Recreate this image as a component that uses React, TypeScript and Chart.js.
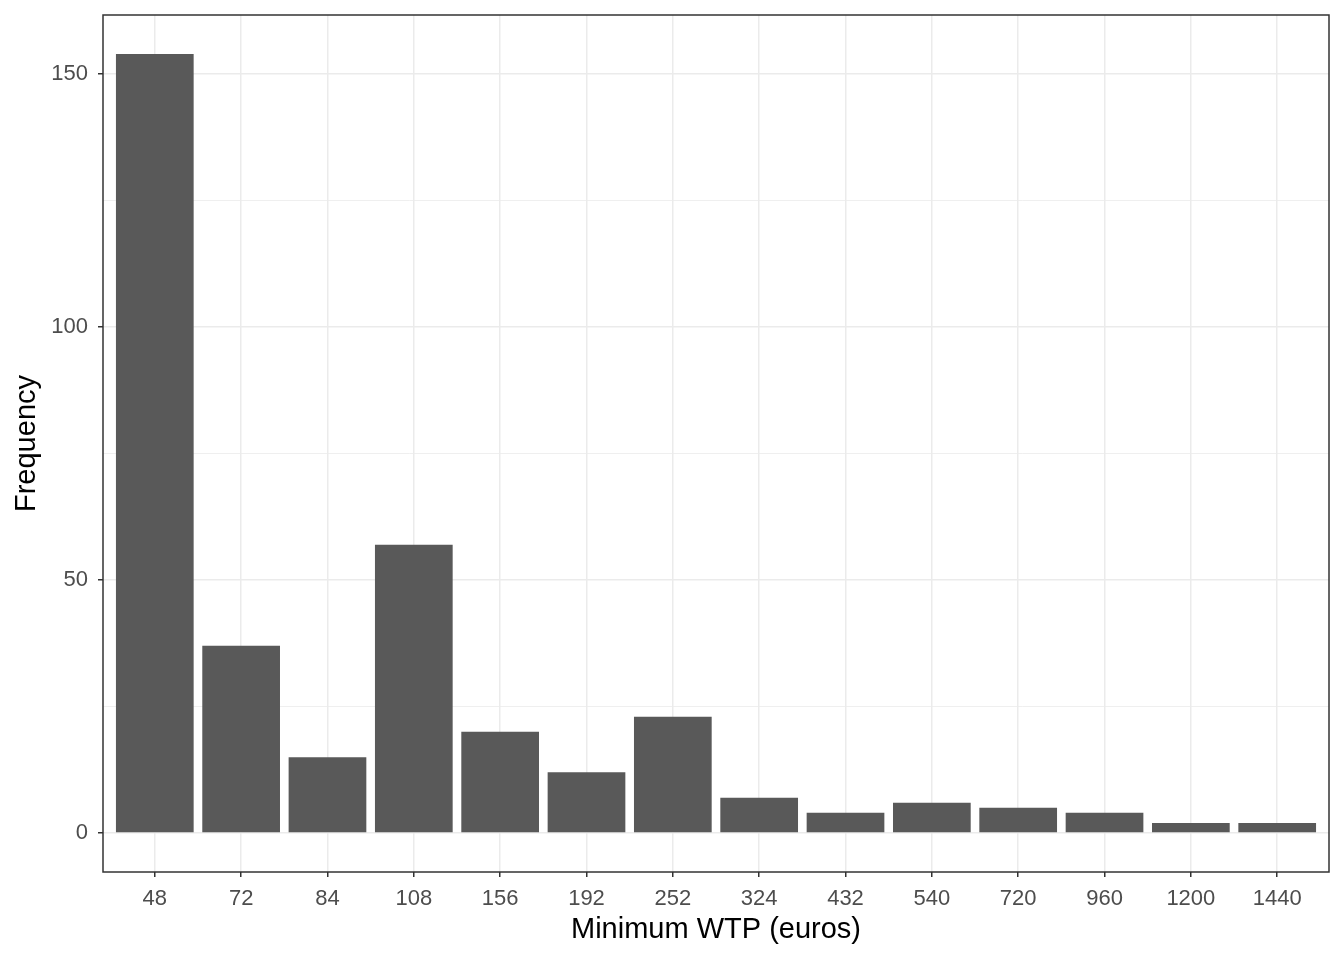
import React, { useEffect, useRef } from "react";
import { Chart, registerables } from "chart.js";

Chart.register(...registerables);

const categories: string[] = ["48", "72", "84", "108", "156", "192", "252", "324", "432", "540", "720", "960", "1200", "1440"];
const frequencies: number[] = [154, 37, 15, 57, 20, 12, 23, 7, 4, 6, 5, 4, 2, 2];
const yTickValues: number[] = [0, 50, 100, 150];
const yGridValues: number[] = [0, 25, 50, 75, 100, 125, 150];

const FONT = "'Liberation Sans', Arial, sans-serif";

const panelBorder = {
  id: "panelBorder",
  afterDraw(chart: any) {
    const { ctx, chartArea } = chart;
    ctx.save();
    ctx.strokeStyle = "#333333";
    ctx.lineWidth = 1.5;
    ctx.strokeRect(chartArea.left, chartArea.top, chartArea.right - chartArea.left, chartArea.bottom - chartArea.top);
    ctx.restore();
  },
};

export default function App() {
  const ref = useRef<HTMLCanvasElement>(null);
  useEffect(() => {
    if (!ref.current) return;
    const n = categories.length;
    const chart = new Chart(ref.current, {
      type: "bar",
      data: {
        datasets: [
          {
            data: frequencies.map((v, i) => ({ x: i, y: v })),
            backgroundColor: "#595959",
            borderWidth: 0,
            barPercentage: 0.9,
            categoryPercentage: 1,
          },
        ],
      },
      options: {
        animation: false,
        responsive: false,
        maintainAspectRatio: false,
        layout: { padding: { top: 15, right: 15, left: 10, bottom: 13 } },
        plugins: { legend: { display: false }, tooltip: { enabled: false } },
        scales: {
          x: {
            type: "linear",
            min: -0.6,
            max: n - 1 + 0.6,
            offset: false,
            afterBuildTicks: (scale: any) => {
              scale.ticks = categories.map((_, i) => ({ value: i }));
            },
            afterFit: (scale: any) => {
              scale.height = 947 - 872;
              scale.paddingLeft = 0;
              scale.paddingRight = 0;
            },
            ticks: {
              callback: (v: any) => categories[v as number] ?? "",
              color: "#4D4D4D",
              font: { family: FONT, size: 22 },
              padding: 9,
              maxRotation: 0,
              autoSkip: false,
            },
            grid: {
              offset: false,
              color: "#EBEBEB",
              lineWidth: 1.5,
              drawTicks: true,
              tickLength: 5,
              tickColor: "#333333",
              tickWidth: 1.5,
            },
            border: { display: false },
            title: {
              display: true,
              text: "Minimum WTP (euros)",
              color: "#000000",
              font: { family: FONT, size: 29 },
              padding: { top: 0, bottom: 0 },
            },
          },
          y: {
            type: "linear",
            min: -7.7,
            max: 161.7,
            afterBuildTicks: (scale: any) => {
              scale.ticks = yGridValues.map((v) => ({ value: v }));
            },
            afterFit: (scale: any) => {
              scale.width = 103 - 10;
              scale.paddingTop = 0;
              scale.paddingBottom = 0;
            },
            ticks: {
              callback: (v: any) => (yTickValues.includes(v as number) ? String(v) : ""),
              color: "#4D4D4D",
              font: { family: FONT, size: 22 },
              padding: 10,
            },
            grid: {
              color: "#EBEBEB",
              lineWidth: (ctx: any) => (ctx.tick && yTickValues.includes(ctx.tick.value) ? 1.5 : 0.8),
              drawTicks: true,
              tickLength: 5,
              tickColor: (ctx: any) => (ctx.tick && yTickValues.includes(ctx.tick.value) ? "#333333" : "rgba(0,0,0,0)"),
              tickWidth: 1.5,
            },
            border: { display: false },
            title: {
              display: true,
              text: "Frequency",
              color: "#000000",
              font: { family: FONT, size: 29 },
              padding: { top: 0, bottom: 0 },
            },
          },
        },
      },
      plugins: [panelBorder],
    } as any);
    return () => chart.destroy();
  }, []);
  return (
    <div style={{ position: "fixed", left: 0, top: 0, width: 1344, height: 960, background: "#fff" }}>
      <canvas ref={ref} width={1344} height={960} style={{ width: 1344, height: 960 }} />
    </div>
  );
}
